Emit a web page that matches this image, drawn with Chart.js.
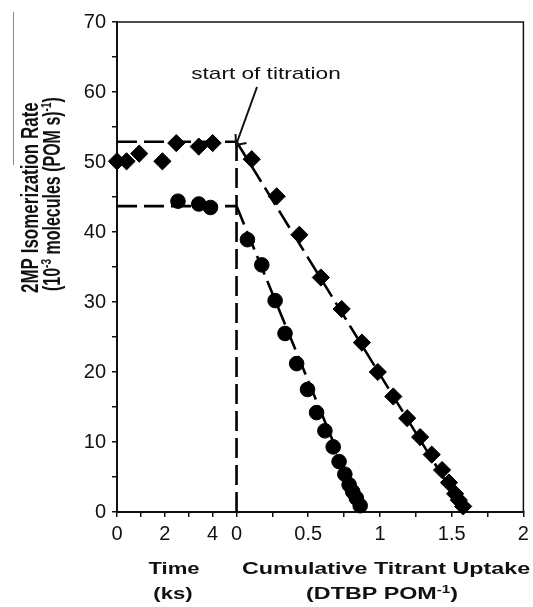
<!DOCTYPE html>
<html><head><meta charset="utf-8">
<script src="https://cdn.jsdelivr.net/npm/chart.js@4"></script>
<style>html,body{margin:0;padding:0;background:#fff}#wrap{width:533px;height:607px;position:relative}</style>
</head><body><div id="wrap"><canvas id="c"></canvas></div>
<script>
// ---------- data ----------
const timeTicks = [0, 1, 2, 3, 4];                 // ks
const timeTickLabels = ['0', '', '2', '', '4'];
const uptakeTicks = [0, 0.25, 0.5, 0.75, 1, 1.25, 1.5, 1.75, 2];   // DTBP POM^-1
const uptakeTickLabels = ['0', '', '0.5', '', '1', '', '1.5', '', '2'];
const yTicks = [0, 5, 10, 15, 20, 25, 30, 35, 40, 45, 50, 55, 60, 65, 70];

// before titration (vs time, ks)
const diamondTime = [0, 0.4, 0.93, 1.9, 2.48, 3.42, 4.0];
const diamondTimeRate = [50.1, 50.1, 51.2, 50.1, 52.7, 52.2, 52.7];
const circleTime = [2.55, 3.42, 3.91];
const circleTimeRate = [44.4, 44.0, 43.5];

// during titration (vs cumulative uptake)
const diamondUptake = [0.106, 0.280, 0.438, 0.588, 0.733, 0.874, 0.985, 1.093, 1.19, 1.28, 1.361, 1.433, 1.481, 1.524, 1.55, 1.58];
const diamondUptakeRate = [50.4, 45.1, 39.6, 33.5, 29.0, 24.2, 20.0, 16.5, 13.4, 10.7, 8.2, 6.0, 4.2, 2.6, 1.7, 0.8];
const circleUptake = [0.076, 0.176, 0.269, 0.338, 0.419, 0.495, 0.558, 0.616, 0.674, 0.715, 0.755, 0.785, 0.81, 0.835, 0.862];
const circleUptakeRate = [38.9, 35.3, 30.2, 25.5, 21.2, 17.5, 14.2, 11.6, 9.3, 7.2, 5.4, 3.9, 2.9, 2.0, 0.9];

// guide lines
const diamondPlateau = 52.9;
const circlePlateau = 43.7;
const diamondFitZero = 1.59;
const circleFitZero = 0.875;
const titrationStartTop = 53;

// ---------- composite x axis: time (0..5 ks) then uptake (0..2) ----------
const TIME_SPAN = 5;       // time region width in axis units
const UPTAKE_K = 6;        // axis units per DTBP POM^-1
const uT = t => t;
const uU = d => TIME_SPAN + d * UPTAKE_K;

const xTickValues = timeTicks.map(uT).concat(uptakeTicks.map(uU));
const xTickLabels = timeTickLabels.concat(uptakeTickLabels);

const pts = (xs, ys, f) => xs.map((x, i) => ({x: f(x), y: ys[i]}));

const diamondStyle = {pointStyle: 'rectRot', pointRadius: 8.6, pointHoverRadius: 8.6, backgroundColor: '#000', borderColor: '#000', borderWidth: 1, showLine: false, clip: false, order: 0};
const circleStyle = {pointStyle: 'circle', pointRadius: 7.3, pointHoverRadius: 7.3, backgroundColor: '#000', borderColor: '#000', borderWidth: 1, showLine: false, clip: false, order: 0};
const dashStyle = {type: 'line', showLine: true, pointRadius: 0, borderColor: '#000', borderWidth: 2.6, borderDash: [20, 7], fill: false, clip: false, order: 1, tension: 0};

const datasets = [
  Object.assign({type: 'scatter', data: pts(diamondTime, diamondTimeRate, uT)}, diamondStyle),
  Object.assign({type: 'scatter', data: pts(circleTime, circleTimeRate, uT)}, circleStyle),
  Object.assign({type: 'scatter', data: pts(diamondUptake, diamondUptakeRate, uU)}, diamondStyle),
  Object.assign({type: 'scatter', data: pts(circleUptake, circleUptakeRate, uU)}, circleStyle),
  Object.assign({data: [{x: uT(0), y: diamondPlateau}, {x: uU(0), y: diamondPlateau}]}, dashStyle),
  Object.assign({data: [{x: uT(0), y: circlePlateau}, {x: uU(0), y: circlePlateau}]}, dashStyle),
  Object.assign({data: [{x: uU(0), y: titrationStartTop}, {x: uU(0), y: 0}]}, dashStyle),
  Object.assign({data: [{x: uU(0), y: diamondPlateau}, {x: uU(diamondFitZero), y: 0}]}, dashStyle),
  Object.assign({data: [{x: uU(0), y: circlePlateau}, {x: uU(circleFitZero), y: 0}]}, dashStyle)
];

const FONT = '"Liberation Sans", Arial, Helvetica, sans-serif';

function drawParts(ctx, parts, size, bold) {
  let x = 0;
  for (const p of parts) {
    const fs = p.sup ? Math.round(size * 0.65) : size;
    ctx.font = (bold ? 'bold ' : '') + fs + 'px ' + FONT;
    ctx.fillText(p.t, x, p.sup ? -size * 0.38 : 0);
    x += ctx.measureText(p.t).width;
  }
  return x;
}
function partsWidth(ctx, parts, size, bold) {
  let w = 0;
  for (const p of parts) {
    const fs = p.sup ? Math.round(size * 0.65) : size;
    ctx.font = (bold ? 'bold ' : '') + fs + 'px ' + FONT;
    w += ctx.measureText(p.t).width;
  }
  return w;
}
function hText(ctx, parts, cx, baseY, size, bold, sx) {
  ctx.save();
  ctx.translate(cx, baseY);
  ctx.scale(sx, 1);
  ctx.textBaseline = 'alphabetic';
  ctx.textAlign = 'left';
  const w = partsWidth(ctx, parts, size, bold);
  ctx.translate(-w / 2, 0);
  drawParts(ctx, parts, size, bold);
  ctx.restore();
}
function vText(ctx, parts, baseX, startY, size, bold, sy) {
  ctx.save();
  ctx.translate(baseX, startY);
  ctx.rotate(-Math.PI / 2);
  ctx.scale(1, sy);
  ctx.textBaseline = 'alphabetic';
  ctx.textAlign = 'left';
  drawParts(ctx, parts, size, bold);
  ctx.restore();
}

const decor = {
  id: 'decor',
  afterDraw(chart) {
    const ctx = chart.ctx;
    const a = chart.chartArea;
    ctx.save();
    // frame top/right
    ctx.strokeStyle = '#111';
    ctx.lineWidth = 1.5;
    ctx.beginPath();
    ctx.moveTo(a.left, a.top); ctx.lineTo(a.right, a.top); ctx.lineTo(a.right, a.bottom);
    ctx.stroke();
    // faint vertical rule at far left
    ctx.strokeStyle = '#8a8a8a';
    ctx.lineWidth = 1;
    ctx.beginPath(); ctx.moveTo(13.5, 12); ctx.lineTo(13.5, 165); ctx.stroke();

    ctx.fillStyle = '#111';
    // y title
    vText(ctx, [{t: '2MP Isomerization Rate'}], 38, 293, 17, true, 1.45);
    vText(ctx, [{t: '(10'}, {t: '-3', sup: true}, {t: ' molecules (POM s)'}, {t: '-1', sup: true}, {t: ')'}], 59.5, 291, 16, true, 1.45);
    // x titles
    const xs = chart.scales.x;
    hText(ctx, [{t: 'Time'}], 174, 574, 17, true, 1.3);
    hText(ctx, [{t: '(ks)'}], 173, 599, 17, true, 1.3);
    hText(ctx, [{t: 'Cumulative Titrant Uptake'}], 386, 574, 17, true, 1.37);
    hText(ctx, [{t: '(DTBP POM'}, {t: '-1', sup: true}, {t: ')'}], 382, 599, 17, true, 1.37);
    // annotation
    hText(ctx, [{t: 'start of titration'}], 266, 79, 17, false, 1.33);
    // arrow
    const ys = chart.scales.y;
    const tipX = xs.getPixelForValue(uU(0)) - 0.5;
    const tipY = ys.getPixelForValue(titrationStartTop) + 4;
    ctx.strokeStyle = '#111';
    ctx.lineWidth = 2;
    ctx.beginPath();
    ctx.moveTo(257, 87); ctx.lineTo(tipX, tipY);
    ctx.moveTo(tipX - 0.5, tipY - 11); ctx.lineTo(tipX, tipY); ctx.lineTo(tipX + 10.5, tipY - 2);
    ctx.stroke();
    ctx.restore();
  }
};

new Chart(document.getElementById('c'), {
  data: {datasets},
  options: {
    responsive: true,
    maintainAspectRatio: false,
    animation: false,
    events: [],
    layout: {padding: {left: 0, top: 22, right: 7, bottom: 0}},
    plugins: {legend: {display: false}, tooltip: {enabled: false}, title: {display: false}},
    scales: {
      x: {
        type: 'linear', min: 0, max: uU(2),
        afterBuildTicks(scale) { scale.ticks = xTickValues.map(v => ({value: v})); },
        afterFit(scale) { scale.height = 95; scale.paddingRight = 0; scale.paddingLeft = 0; },
        ticks: {
          autoSkip: false, maxRotation: 0, minRotation: 0, padding: 5,
          color: '#111', font: {family: FONT, size: 20},
          callback: (v, i) => xTickLabels[i]
        },
        grid: {display: true, drawOnChartArea: false, drawTicks: true, tickLength: 5, color: '#111', lineWidth: 1.5},
        border: {display: true, color: '#111', width: 2}
      },
      y: {
        type: 'linear', min: 0, max: 70,
        afterBuildTicks(scale) { scale.ticks = yTicks.map(v => ({value: v})); },
        afterFit(scale) { scale.width = 117; scale.paddingTop = 0; scale.paddingBottom = 0; },
        ticks: {
          autoSkip: false, padding: 6,
          color: '#111', font: {family: FONT, size: 20},
          callback: v => (v % 10 === 0 ? String(v) : '')
        },
        grid: {display: true, drawOnChartArea: false, drawTicks: true, tickLength: 5, color: '#111', lineWidth: 1.5},
        border: {display: true, color: '#111', width: 2}
      }
    }
  },
  plugins: [decor]
});
</script>
</body></html>
